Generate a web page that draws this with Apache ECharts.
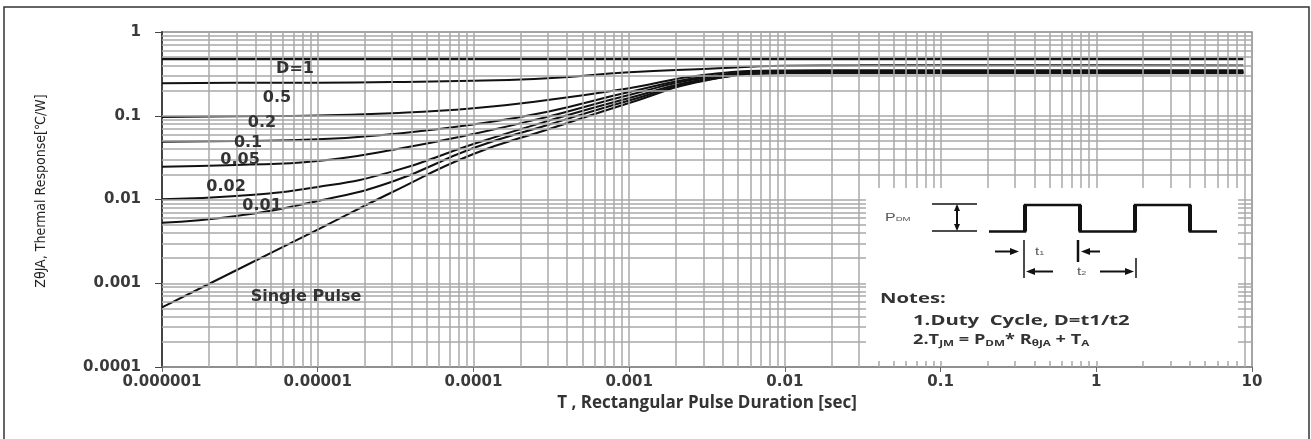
<!DOCTYPE html>
<html>
<head>
<meta charset="utf-8">
<script src="https://cdn.jsdelivr.net/npm/echarts@6/dist/echarts.min.js"></script>
<style>
  html, body { margin: 0; background: #fff; }
  #chart { width: 1311px; height: 439px; }
</style>
</head>
<body>
<div id="chart"></div>
<script>
// pulse duration [sec]
var pulseT = [1e-6, 3e-6, 1e-5, 3e-5, 1e-4, 3e-4, 1e-3, 3e-3, 1e-2, 3e-2, 0.1, 1, 8.8];

// Z thJA [C/W] for each duty cycle
var zD1     = [0.476, 0.476, 0.476, 0.476, 0.476, 0.476, 0.476, 0.476, 0.476, 0.476, 0.476, 0.476, 0.476];
var zD05    = [0.245, 0.247, 0.248, 0.253, 0.262, 0.280, 0.330, 0.362, 0.395, 0.400, 0.402, 0.400, 0.398];
var zD02    = [0.0966, 0.0985, 0.101, 0.107, 0.123, 0.154, 0.213, 0.307, 0.347, 0.349, 0.349, 0.349, 0.349];
var zD01    = [0.0490, 0.0499, 0.0523, 0.0605, 0.0786, 0.1117, 0.192, 0.290, 0.3375, 0.340, 0.340, 0.340, 0.340];
var zD005   = [0.0246, 0.0258, 0.0288, 0.0390, 0.0605, 0.0975, 0.177, 0.282, 0.330, 0.333, 0.333, 0.333, 0.333];
var zD002   = [0.0101, 0.0110, 0.0141, 0.0215, 0.0460, 0.0866, 0.163, 0.271, 0.327, 0.328, 0.328, 0.328, 0.328];
var zD001   = [0.00528, 0.00635, 0.0096, 0.0163, 0.0412, 0.0776, 0.152, 0.2635, 0.324, 0.324, 0.324, 0.324, 0.324];
var zSingle = [0.000516, 0.00143, 0.00438, 0.0122, 0.0349, 0.0685, 0.142, 0.260, 0.321, 0.321, 0.321, 0.321, 0.321];

var curveNames = ['D=1', '0.5', '0.2', '0.1', '0.05', '0.02', '0.01', 'Single Pulse'];
var curveData = [zD1, zD05, zD02, zD01, zD005, zD002, zD001, zSingle];
// where each curve's label sits, in data coords [t, Z]
var labelAt = [[7.15e-6, 0.362], [5.48e-6, 0.163], [4.39e-6, 0.0819], [3.57e-6, 0.0473],
               [3.17e-6, 0.0296], [2.58e-6, 0.0141], [4.39e-6, 0.00836], [8.41e-6, 0.000685]];

var xTickLabels = ['0.000001', '0.00001', '0.0001', '0.001', '0.01', '0.1', '1', '10'];
var yTickLabels = ['0.0001', '0.001', '0.01', '0.1', '1'];

// log grid lines (1..9 per decade)
var vLines = [], hLines = [];
for (var e = -6; e <= 0; e++) {
  for (var k = 1; k <= 9; k++) {
    if (e === -6 && k === 1) continue;
    vLines.push({ xAxis: k * Math.pow(10, e) });
  }
}
for (var e2 = -4; e2 <= -1; e2++) {
  for (var k2 = 1; k2 <= 9; k2++) {
    if (e2 === -4 && k2 === 1) continue;
    hLines.push({ yAxis: k2 * Math.pow(10, e2) });
  }
}

var tickFont = { fontFamily: 'DejaVu Sans', fontWeight: 'bold', fontSize: 15, color: '#3a3a3a' };
var labelFont = { fontFamily: 'DejaVu Sans', fontWeight: 'bold', fontSize: 16, color: '#333' };

var series = [{
  type: 'line',
  z: 1,
  data: [[1e-6, 1e-4]],
  showSymbol: false,
  lineStyle: { opacity: 0 },
  silent: true,
  markLine: {
    silent: true,
    precision: 12,
    symbol: ['none', 'none'],
    label: { show: false },
    animation: false,
    lineStyle: { color: '#a8a8a8', width: 1.5, type: 'solid' },
    data: vLines.concat(hLines)
  }
}];

curveData.forEach(function (vals, i) {
  series.push({
    name: curveNames[i],
    type: 'line',
    z: 3,
    smooth: 0.5,
    showSymbol: false,
    silent: true,
    lineStyle: { color: '#111', width: i === 0 ? 2.5 : 2 },
    data: pulseT.map(function (t, j) { return [t, vals[j]]; }),
    markPoint: {
      symbol: 'rect',
      symbolSize: 1,
      itemStyle: { color: 'transparent' },
      silent: true,
      label: Object.assign({ show: true, position: 'inside', formatter: curveNames[i] }, labelFont),
      data: [{ coord: labelAt[i] }]
    }
  });
});

// the source figure is stretched sideways, so the inset text gets scaleX
var sub = { fontFamily: 'Open Sans', fontWeight: 'bold', fontSize: 9, fill: '#333', padding: [6, 0, 0, 0] };
var main = { fontFamily: 'Open Sans', fontWeight: 'bold', fontSize: 14, fill: '#333' };
var tinyP = { fontFamily: 'Liberation Sans', fontSize: 10, fill: '#555' };
var tinyS = { fontFamily: 'Liberation Sans', fontSize: 6, fill: '#555', padding: [3, 0, 0, 0] };

function seg(x1, y1, x2, y2, w) {
  return { type: 'line', z: 10, shape: { x1: x1, y1: y1, x2: x2, y2: y2 }, style: { stroke: '#111', lineWidth: w || 1.5 } };
}
function tri(pts) {
  return { type: 'polygon', z: 10, shape: { points: pts }, style: { fill: '#111' } };
}

var graphic = [
  { type: 'polyline', z: 10, shape: { points: [[4, 439], [4, 7], [1309, 7], [1309, 439]] }, style: { stroke: '#333', lineWidth: 1.5, fill: null } },
  { type: 'rect', z: 9, shape: { x: 866, y: 188, width: 372, height: 173 }, style: { fill: '#fff' } },
  // P_DM dimension
  { type: 'text', z: 10, x: 885, y: 218, scaleX: 1.6, style: { text: '{p|P}{s|DM}', verticalAlign: 'middle', rich: { p: tinyP, s: tinyS } } },
  seg(932, 204, 977, 204), seg(932, 231, 977, 231), seg(957, 208, 957, 227, 2),
  tri([[957, 204], [954, 211], [960, 211]]), tri([[957, 231], [954, 224], [960, 224]]),
  // pulse train
  { type: 'polyline', z: 10, shape: { points: [[989, 231.5], [1025, 231.5], [1025, 205], [1080, 205], [1080, 231.5], [1135, 231.5], [1135, 205], [1190, 205], [1190, 231.5], [1217, 231.5]] },
    style: { stroke: '#111', lineWidth: 2.5, fill: null } },
  seg(1025, 205, 1025, 231.5, 4), seg(1080, 205, 1080, 231.5, 4), seg(1135, 205, 1135, 231.5, 4), seg(1190, 205, 1190, 231.5, 4),
  // t1 / t2 markers
  seg(1024, 240, 1024, 278), seg(1078, 240, 1078, 262, 2.5), seg(1136, 258, 1136, 278),
  seg(995, 251.5, 1012, 251.5, 2), tri([[1019, 251.5], [1010, 248], [1010, 255]]),
  seg(1087, 251.5, 1100, 251.5, 2), tri([[1081, 251.5], [1090, 248], [1090, 255]]),
  seg(1034, 271.5, 1053, 271.5, 2), tri([[1026, 271.5], [1035, 268], [1035, 275]]),
  seg(1100, 271.5, 1127, 271.5, 2), tri([[1134, 271.5], [1125, 268], [1125, 275]]),
  { type: 'text', z: 10, x: 1035, y: 252, scaleX: 1.5, style: { text: '{p|t}{s|1}', verticalAlign: 'middle', rich: { p: tinyP, s: tinyS } } },
  { type: 'text', z: 10, x: 1077, y: 272, scaleX: 1.5, style: { text: '{p|t}{s|2}', verticalAlign: 'middle', rich: { p: tinyP, s: tinyS } } },
  // notes
  { type: 'text', z: 10, x: 880, y: 299, scaleX: 1.45, style: { text: 'Notes:', verticalAlign: 'middle', font: 'bold 14px "Open Sans"', fill: '#333' } },
  { type: 'text', z: 10, x: 913, y: 321, scaleX: 1.45, style: { text: '1.Duty  Cycle, D=t1/t2', verticalAlign: 'middle', font: 'bold 14px "Open Sans"', fill: '#333' } },
  { type: 'text', z: 10, x: 913, y: 340, scaleX: 1.3, style: { text: '{m|2.T}{s|JM}{m| = P}{s|DM}{m|* R}{s|θJA}{m| + T}{s|A}', verticalAlign: 'middle',
    rich: { m: main, s: sub } } }
];

var chart = echarts.init(document.getElementById('chart'));
chart.setOption({
  animation: false,
  backgroundColor: '#fff',
  grid: { left: 162, right: 59, top: 32, bottom: 72, show: true, borderColor: '#888', borderWidth: 1.5 },
  xAxis: {
    type: 'log',
    logBase: 10,
    min: 1e-6,
    max: 10,
    splitNumber: 7,
    name: 'T , Rectangular Pulse Duration [sec]',
    nameLocation: 'middle',
    nameGap: 28,
    nameTextStyle: { fontFamily: 'Open Sans', fontWeight: 'bold', fontSize: 17, color: '#333' },
    axisLine: { lineStyle: { color: '#888', width: 1.5 } },
    axisTick: { show: true, length: 5, lineStyle: { color: '#666' } },
    splitLine: { show: false },
    axisLabel: Object.assign({ margin: 8, formatter: function (v) { return xTickLabels[Math.round(Math.log10(v)) + 6]; } }, tickFont)
  },
  yAxis: {
    type: 'log',
    logBase: 10,
    min: 1e-4,
    max: 1,
    splitNumber: 4,
    name: 'ZθJA, Thermal Response[℃/W]',
    nameLocation: 'middle',
    nameGap: 114,
    nameTextStyle: { fontFamily: '"Liberation Sans Narrow", "DejaVu Sans Condensed", Roboto, sans-serif', fontSize: 14, color: '#222', padding: [0, 0, 0, 17] },
    axisLine: { show: true, lineStyle: { color: '#444', width: 2 } },
    axisTick: { show: true, length: 7, lineStyle: { color: '#444' } },
    splitLine: { show: false },
    axisLabel: Object.assign({ margin: 21, formatter: function (v) { return yTickLabels[Math.round(Math.log10(v)) + 4]; } }, tickFont)
  },
  series: series,
  graphic: graphic
});
</script>
</body>
</html>
